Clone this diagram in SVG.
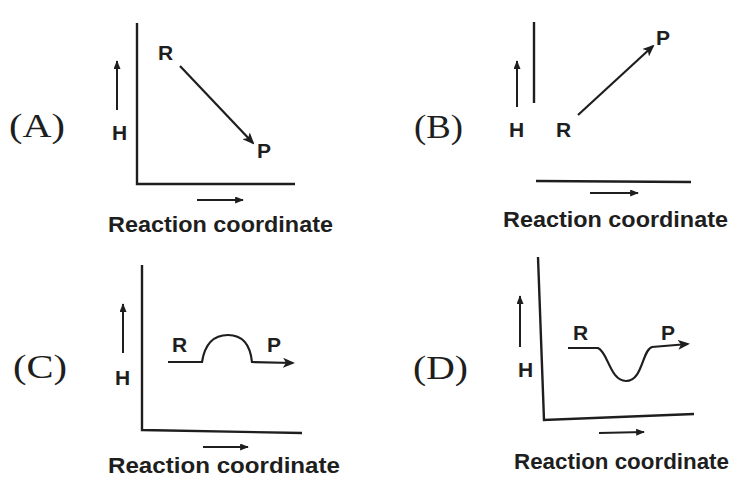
<svg xmlns="http://www.w3.org/2000/svg" width="732" height="479" viewBox="0 0 732 479">
<defs>
<marker id="ah" viewBox="0 0 12 10" refX="10" refY="5" markerWidth="12" markerHeight="10" markerUnits="userSpaceOnUse" orient="auto">
<path d="M0,0 L12,5 L0,10 L3,5 z" fill="#1e1e1e"/>
</marker>
<marker id="sh" viewBox="0 0 10 8" refX="9" refY="4" markerWidth="9" markerHeight="7" markerUnits="userSpaceOnUse" orient="auto">
<path d="M0,0 L10,4 L0,8 z" fill="#1e1e1e"/>
</marker>
<style>
.ax{stroke:#1e1e1e;stroke-width:2.4;fill:none}
.ln{stroke:#1e1e1e;stroke-width:2.2;fill:none}
.th{stroke:#1e1e1e;stroke-width:2;fill:none}
.lab{font-family:"Liberation Serif",serif;font-size:34px;fill:#1e1e1e}
.s{font-family:"Liberation Sans",Arial,sans-serif;font-weight:bold;font-size:21px;fill:#1e1e1e}
.rc{font-family:"Liberation Sans",Arial,sans-serif;font-weight:bold;font-size:22px;fill:#1e1e1e}
</style>
</defs>
<rect width="732" height="479" fill="#ffffff"/>

<g id="panelA">
<text class="lab" x="9" y="137" textLength="56" lengthAdjust="spacingAndGlyphs">(A)</text>
<path class="ax" d="M137,23 L137,184 L295,184"/>
<line class="th" x1="117" y1="110" x2="117" y2="61" marker-end="url(#sh)"/>
<text class="s" x="112" y="140">H</text>
<text class="s" x="158" y="60">R</text>
<line class="ln" x1="180" y1="66" x2="253" y2="143" marker-end="url(#ah)"/>
<text class="s" x="257" y="158">P</text>
<line class="th" x1="197" y1="200" x2="243" y2="200" marker-end="url(#sh)"/>
<text class="rc" x="108" y="232" textLength="225" lengthAdjust="spacingAndGlyphs">Reaction coordinate</text>
</g>

<g id="panelB">
<text class="lab" x="414" y="138" textLength="49" lengthAdjust="spacingAndGlyphs">(B)</text>
<line class="ax" x1="534" y1="22" x2="534" y2="103"/>
<line class="ax" x1="536" y1="181" x2="691" y2="182"/>
<line class="th" x1="517" y1="107" x2="517" y2="61" marker-end="url(#sh)"/>
<text class="s" x="509" y="137">H</text>
<text class="s" x="556" y="137">R</text>
<line class="ln" x1="578" y1="115" x2="653" y2="46" marker-end="url(#ah)"/>
<text class="s" x="656" y="45">P</text>
<line class="th" x1="590" y1="193" x2="638" y2="193" marker-end="url(#sh)"/>
<text class="rc" x="503" y="227" textLength="225" lengthAdjust="spacingAndGlyphs">Reaction coordinate</text>
</g>

<g id="panelC">
<text class="lab" x="13" y="378" textLength="54" lengthAdjust="spacingAndGlyphs">(C)</text>
<path class="ax" d="M142,265 L142,430 L302,433"/>
<line class="th" x1="123" y1="353" x2="123" y2="304" marker-end="url(#sh)"/>
<text class="s" x="115" y="385">H</text>
<text class="s" x="172" y="352">R</text>
<path class="ln" d="M168,362 L202,362 C205,343 214,335 228,335 C242,335 250,343 252,362 L293,363" marker-end="url(#ah)"/>
<text class="s" x="267" y="352">P</text>
<line class="th" x1="203" y1="447" x2="248" y2="447" marker-end="url(#sh)"/>
<text class="rc" x="108" y="473" textLength="232" lengthAdjust="spacingAndGlyphs">Reaction coordinate</text>
</g>

<g id="panelD">
<text class="lab" x="413" y="379" textLength="55" lengthAdjust="spacingAndGlyphs">(D)</text>
<path class="ax" d="M538,257 L544,420 L694,414"/>
<line class="th" x1="520" y1="347" x2="520" y2="296" marker-end="url(#sh)"/>
<text class="s" x="518" y="377">H</text>
<text class="s" x="573" y="340">R</text>
<path class="ln" d="M568,348 L598,348 C608,352 610,381 626,381 C643,381 642,350 652,347 L688,344" marker-end="url(#ah)"/>
<text class="s" x="661" y="340">P</text>
<line class="th" x1="599" y1="433" x2="644" y2="432" marker-end="url(#sh)"/>
<text class="rc" x="514" y="469" textLength="215" lengthAdjust="spacingAndGlyphs">Reaction coordinate</text>
</g>
</svg>
